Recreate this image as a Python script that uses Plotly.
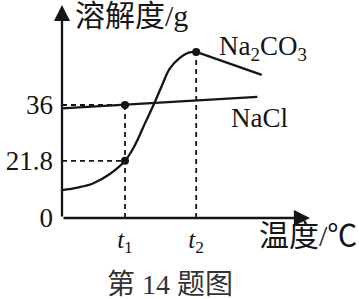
import plotly.graph_objects as go

# schematic units (x: temperature, y: solubility position)
t1 = 10.0
t2 = 21.3
na2co3_rise_x = [0, 2.5, 4.9, 7.6, 10.0, 11.6, 13.2, 14.6, 15.9, 17.1, 18.7, 20.0, 21.3]
na2co3_rise_y = [8.9, 9.7, 11.0, 14.0, 18.2, 23.3, 30.3, 36.3, 42.4, 47.6, 51.0, 52.6, 52.9]
na2co3_fall_x = [21.3, 31.7]
na2co3_fall_y = [52.9, 45.6]
nacl_x = [0, 31.0]
nacl_y = [34.9, 38.6]
y_at_t1_nacl = 36.0
y_at_t1_na2co3 = 18.2
y_peak = 52.9
ytick_vals = [0, 18.2, 36.0]
ytick_text = ["0", "21.8", "36"]
xtick_vals = [t1, t2]
xtick_text = ["<i>t</i><sub>1</sub>", "<i>t</i><sub>2</sub>"]

INK = "#151515"
SERIF = "Liberation Serif, Noto Sans CJK SC"

fig = go.Figure()

dash = "5px,4px"
for xs, ys in [([0, t1], [y_at_t1_nacl, y_at_t1_nacl]),
               ([0, t1], [y_at_t1_na2co3, y_at_t1_na2co3]),
               ([t1, t1], [0, y_at_t1_nacl]),
               ([t2, t2], [0, y_peak])]:
    fig.add_trace(go.Scatter(x=xs, y=ys, mode="lines",
                             line=dict(color=INK, width=1.8, dash=dash),
                             hoverinfo="skip", showlegend=False))

fig.add_trace(go.Scatter(x=nacl_x, y=nacl_y, mode="lines",
                         line=dict(color=INK, width=2.3), showlegend=False))
fig.add_trace(go.Scatter(x=na2co3_rise_x, y=na2co3_rise_y, mode="lines",
                         line=dict(color=INK, width=2.3, shape="spline", smoothing=1.0),
                         showlegend=False))
fig.add_trace(go.Scatter(x=na2co3_fall_x, y=na2co3_fall_y, mode="lines",
                         line=dict(color=INK, width=2.3), showlegend=False))
fig.add_trace(go.Scatter(x=[t1, t1, t2], y=[y_at_t1_nacl, y_at_t1_na2co3, y_peak],
                         mode="markers", marker=dict(color=INK, size=8),
                         cliponaxis=False, showlegend=False))

L, R, T, B = 62, 49, 5, 81
fig.update_layout(
    width=359, height=299,
    margin=dict(l=L, r=R, t=T, b=B, pad=0),
    paper_bgcolor="white", plot_bgcolor="white",
    xaxis=dict(range=[0, 248 / 6.3], showgrid=False, zeroline=False, showline=False,
               tickvals=xtick_vals, ticktext=xtick_text, ticks="",
               tickfont=dict(family=SERIF, size=25, color=INK), ticklabelstandoff=4),
    yaxis=dict(range=[0, 213 / 3.139], showgrid=False, zeroline=False, showline=False,
               tickvals=ytick_vals, ticktext=ytick_text, ticks="",
               tickfont=dict(family=SERIF, size=27, color=INK), ticklabelstandoff=8),
)

# axes with arrows
fig.add_annotation(x=1, y=0, xref="paper", yref="paper", ax=-248, ay=0, text="",
                   showarrow=True, arrowhead=2, arrowsize=1.4, arrowwidth=2.3, arrowcolor=INK)
fig.add_annotation(x=0, y=1, xref="paper", yref="paper", ax=0, ay=213, text="",
                   showarrow=True, arrowhead=2, arrowsize=1.4, arrowwidth=2.3, arrowcolor=INK)

def label(text, px, py, size, color=INK, xanchor="center"):
    fig.add_annotation(x=(px - L) / 248, y=(218 - py) / 213, xref="paper", yref="paper",
                       text=text, showarrow=False, xanchor=xanchor, yanchor="middle",
                       font=dict(family=SERIF, size=size, color=color))

label("溶解度/g", 73, 16, 30, xanchor="left")
label("Na<sub>2</sub>CO<sub>3</sub>", 263, 48, 27)
label("NaCl", 259, 118, 27)
label("温度/℃", 257, 236, 30, xanchor="left")
label("第 14 题图", 170, 284, 28, color="#333333")

fig.write_html("out.html")
